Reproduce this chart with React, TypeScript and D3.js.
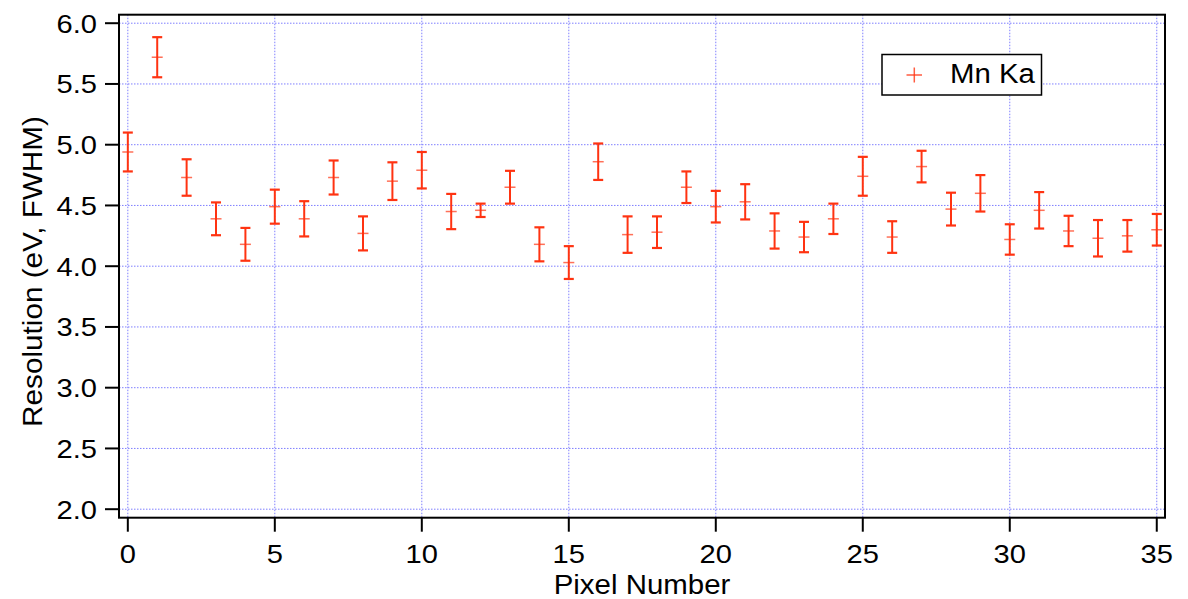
import React from 'react';
import * as d3 from 'd3';

// Mn Ka resolution per pixel
const pixels = [0, 1, 2, 3, 4, 5, 6, 7, 8, 9, 10, 11, 12, 13, 14, 15, 16, 17, 18, 19, 20, 21, 22, 23, 24, 25, 26, 27, 28, 29, 30, 31, 32, 33, 34, 35];
const resolution = [4.94, 5.72, 4.73, 4.39, 4.18, 4.49, 4.39, 4.73, 4.27, 4.70, 4.79, 4.45, 4.46, 4.65, 4.18, 4.03, 4.86, 4.26, 4.28, 4.65, 4.49, 4.53, 4.29, 4.24, 4.39, 4.74, 4.24, 4.82, 4.47, 4.60, 4.22, 4.46, 4.29, 4.23, 4.25, 4.30];
const errors = [0.16, 0.165, 0.15, 0.135, 0.135, 0.14, 0.145, 0.14, 0.14, 0.155, 0.15, 0.145, 0.055, 0.135, 0.14, 0.135, 0.15, 0.15, 0.13, 0.13, 0.13, 0.145, 0.145, 0.125, 0.125, 0.16, 0.13, 0.13, 0.135, 0.15, 0.125, 0.15, 0.125, 0.15, 0.13, 0.13];

const xTicks = [0, 5, 10, 15, 20, 25, 30, 35];
const yTicks = [2.0, 2.5, 3.0, 3.5, 4.0, 4.5, 5.0, 5.5, 6.0];
const seriesName = 'Mn Ka';

const W = 1188;
const H = 599;
const left = 119;
const right = 1165;
const top = 14.7;
const bottom = 517.7;

const red = '#ff3311';
const gridColor = '#7f7fff';
const font = '"Liberation Sans", Arial, Helvetica, sans-serif';

// the original text is a bit wider than Liberation Sans, so stretch it horizontally
const Label = ({ x, y, sx, size, anchor, rotate, children }: any) => (
  <text
    transform={`translate(${x},${y})${rotate ? ' rotate(-90)' : ''} scale(${sx},1)`}
    textAnchor={anchor}
    fontSize={size}
    fill="#000"
  >
    {children}
  </text>
);

export default function App() {
  const x = d3.scaleLinear().domain([-0.3, 35.28]).range([left, right]);
  const y = d3.scaleLinear().domain([1.93, 6.07]).range([bottom, top]);
  const cap = 5;

  return (
    <svg width={W} height={H} style={{ position: 'absolute', left: 0, top: 0, background: '#fff' }} fontFamily={font}>
      {/* grid */}
      {yTicks.map((t) => (
        <line key={'gy' + t} x1={left} x2={right} y1={y(t)} y2={y(t)} stroke={gridColor} strokeWidth={1} strokeDasharray="1.5,1.5" />
      ))}
      {xTicks.map((t) => (
        <line key={'gx' + t} x1={x(t)} x2={x(t)} y1={top} y2={bottom} stroke={gridColor} strokeWidth={1} strokeDasharray="1.5,1.5" />
      ))}

      {/* error bars + markers */}
      {pixels.map((p, i) => {
        const cx = x(p);
        const yHi = y(resolution[i] + errors[i]);
        const yLo = y(resolution[i] - errors[i]);
        const cy = y(resolution[i]);
        return (
          <g key={'pt' + p} stroke={red}>
            <line x1={cx} x2={cx} y1={yHi} y2={yLo} strokeWidth={2} />
            <line x1={cx - cap} x2={cx + cap} y1={yHi} y2={yHi} strokeWidth={2.2} />
            <line x1={cx - cap} x2={cx + cap} y1={yLo} y2={yLo} strokeWidth={2.2} />
            <line x1={cx - 5.5} x2={cx + 5.5} y1={cy} y2={cy} strokeWidth={1.5} strokeOpacity={0.7} />
          </g>
        );
      })}

      {/* frame */}
      <rect x={left} y={top} width={right - left} height={bottom - top} fill="none" stroke="#000" strokeWidth={2} />

      {/* y axis */}
      {yTicks.map((t) => (
        <g key={'ty' + t}>
          <line x1={left - 14} x2={left} y1={y(t)} y2={y(t)} stroke="#000" strokeWidth={2} />
          <Label x={97} y={y(t) + 9.4} sx={1.12} size={26} anchor="end">
            {d3.format('.1f')(t)}
          </Label>
        </g>
      ))}

      {/* x axis */}
      {xTicks.map((t) => (
        <g key={'tx' + t}>
          <line x1={x(t)} x2={x(t)} y1={bottom} y2={bottom + 14} stroke="#000" strokeWidth={2} />
          <Label x={x(t)} y={562.5} sx={1.12} size={26} anchor="middle">
            {t}
          </Label>
        </g>
      ))}

      <Label x={642} y={594} sx={1.09} size={27} anchor="middle">
        Pixel Number
      </Label>
      <Label x={42} y={271.5} sx={1.1} size={27} anchor="middle" rotate>
        Resolution (eV, FWHM)
      </Label>

      {/* legend */}
      <g>
        <rect x={882} y={54.5} width={159.5} height={40.5} fill="#fff" stroke="#000" strokeWidth={1.5} />
        <line x1={906.5} x2={922} y1={75} y2={75} stroke={red} strokeWidth={1.5} strokeOpacity={0.8} />
        <line x1={914.3} x2={914.3} y1={67.5} y2={82.5} stroke={red} strokeWidth={1.5} strokeOpacity={0.8} />
        <Label x={950} y={82.7} sx={1.05} size={28} anchor="start">
          {seriesName}
        </Label>
      </g>
    </svg>
  );
}
